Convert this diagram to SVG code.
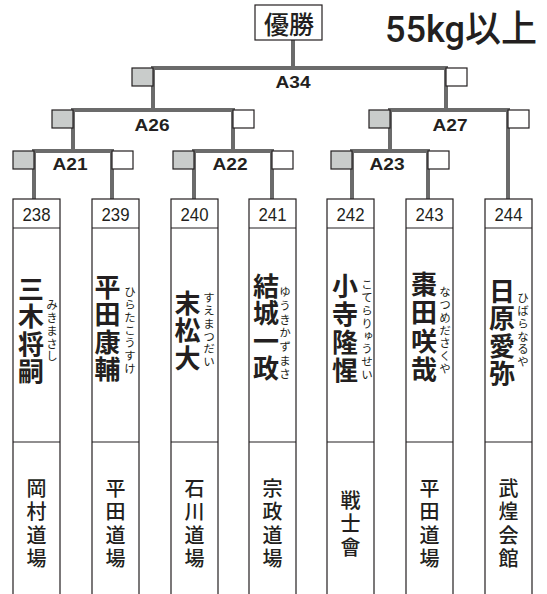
<svg xmlns="http://www.w3.org/2000/svg" width="547" height="594" viewBox="0 0 547 594">
<style>
.ln{fill:none;stroke:#6b6b6b;stroke-width:4;stroke-linejoin:miter}
.sb{stroke:#231f20;stroke-width:1.2}
.g{fill:#c9cccb}
.w{fill:#fff}
.lbl{font-family:"Liberation Sans",Arial,sans-serif;font-weight:bold;font-size:16px;fill:#231f20;text-anchor:middle}
.box{fill:#fff;stroke:#231f20;stroke-width:1.2}
.sep{stroke:#231f20;stroke-width:1.2}
.num{font-family:"Liberation Sans Narrow","Liberation Sans",Arial,sans-serif;font-size:19px;fill:#231f20;text-anchor:middle}
.nm{font-family:"Noto Sans CJK JP",sans-serif;font-weight:700;font-size:26px;letter-spacing:1.5px;fill:#231f20;writing-mode:vertical-rl}
.fu{font-family:"Noto Sans CJK JP",sans-serif;font-size:11.5px;letter-spacing:1.3px;fill:#231f20;writing-mode:vertical-rl}
.dj{font-family:"Noto Sans CJK JP",sans-serif;font-weight:500;font-size:20px;letter-spacing:3.5px;fill:#231f20;writing-mode:vertical-rl}
</style>
<rect width="547" height="594" fill="#fff"/>
<g id="connectors">
<path class="ln" d="M293,40 V68"/>
<path class="ln" d="M153,110 V68 H446 V110"/>
<path class="ln" d="M73,151 V110 H233 V151"/>
<path class="ln" d="M390,151 V110 H508 V199"/>
<path class="ln" d="M34,199 V151 H112 V199"/>
<path class="ln" d="M194,199 V151 H272 V199"/>
<path class="ln" d="M352,199 V151 H428 V199"/>
</g>
<g id="title">
<text x="385" y="42" font-family="Roboto,'Noto Sans CJK JP',sans-serif" font-weight="500" font-size="37" fill="#231f20" textLength="152" lengthAdjust="spacingAndGlyphs">55kg以上</text>
</g>
<g id="winner">
<rect class="box" x="255" y="5" width="67" height="35"/>
<text x="289" y="34" font-family="'Noto Sans CJK JP',sans-serif" font-weight="500" font-size="25" fill="#231f20" text-anchor="middle">優勝</text>
</g>
<g id="A34">
<rect class="sb g" x="132" y="68" width="21" height="18"/>
<rect class="sb w" x="446" y="68" width="21" height="18"/>
<text class="lbl" x="293" y="88" textLength="35" lengthAdjust="spacingAndGlyphs">A34</text>
</g>
<g id="A26">
<rect class="sb g" x="52" y="110" width="21" height="18"/>
<rect class="sb w" x="233" y="110" width="21" height="18"/>
<text class="lbl" x="152" y="131" textLength="35" lengthAdjust="spacingAndGlyphs">A26</text>
</g>
<g id="A27">
<rect class="sb g" x="369" y="110" width="21" height="18"/>
<rect class="sb w" x="508" y="110" width="21" height="18"/>
<text class="lbl" x="450" y="131" textLength="35" lengthAdjust="spacingAndGlyphs">A27</text>
</g>
<g id="A21">
<rect class="sb g" x="13" y="151" width="21" height="18"/>
<rect class="sb w" x="112" y="151" width="21" height="18"/>
<text class="lbl" x="70" y="170" textLength="35" lengthAdjust="spacingAndGlyphs">A21</text>
</g>
<g id="A22">
<rect class="sb g" x="173" y="151" width="21" height="18"/>
<rect class="sb w" x="272" y="151" width="21" height="18"/>
<text class="lbl" x="230" y="170" textLength="35" lengthAdjust="spacingAndGlyphs">A22</text>
</g>
<g id="A23">
<rect class="sb g" x="331" y="151" width="21" height="18"/>
<rect class="sb w" x="428" y="151" width="21" height="18"/>
<text class="lbl" x="387" y="170" textLength="35" lengthAdjust="spacingAndGlyphs">A23</text>
</g>
<g id="p238">
<rect class="box" x="13" y="199" width="47" height="400"/>
<line class="sep" x1="13" y1="228" x2="60" y2="228"/>
<line class="sep" x1="13" y1="442" x2="60" y2="442"/>
<text class="num" x="36.5" y="221" textLength="28" lengthAdjust="spacingAndGlyphs">238</text>
<text class="nm" x="31" y="276">三木将嗣</text>
<text class="fu" x="52" y="299">みきまさし</text>
<text class="dj" x="36.5" y="478">岡村道場</text>
</g>
<g id="p239">
<rect class="box" x="92" y="199" width="47" height="400"/>
<line class="sep" x1="92" y1="228" x2="139" y2="228"/>
<line class="sep" x1="92" y1="442" x2="139" y2="442"/>
<text class="num" x="115.5" y="221" textLength="28" lengthAdjust="spacingAndGlyphs">239</text>
<text class="nm" x="107.5" y="274">平田康輔</text>
<text class="fu" x="130" y="286">ひらたこうすけ</text>
<text class="dj" x="115.5" y="478">平田道場</text>
</g>
<g id="p240">
<rect class="box" x="171" y="199" width="47" height="400"/>
<line class="sep" x1="171" y1="228" x2="218" y2="228"/>
<line class="sep" x1="171" y1="442" x2="218" y2="442"/>
<text class="num" x="194.5" y="221" textLength="28" lengthAdjust="spacingAndGlyphs">240</text>
<text class="nm" x="187.5" y="290">末松大</text>
<text class="fu" x="209" y="292">すえまつだい</text>
<text class="dj" x="194.5" y="478">石川道場</text>
</g>
<g id="p241">
<rect class="box" x="249" y="199" width="47" height="400"/>
<line class="sep" x1="249" y1="228" x2="296" y2="228"/>
<line class="sep" x1="249" y1="442" x2="296" y2="442"/>
<text class="num" x="272.5" y="221" textLength="28" lengthAdjust="spacingAndGlyphs">241</text>
<text class="nm" x="266" y="273">結城一政</text>
<text class="fu" x="285" y="286" style="letter-spacing:2.2px">ゆうきかずまさ</text>
<text class="dj" x="272.5" y="478">宗政道場</text>
</g>
<g id="p242">
<rect class="box" x="327" y="199" width="47" height="400"/>
<line class="sep" x1="327" y1="228" x2="374" y2="228"/>
<line class="sep" x1="327" y1="442" x2="374" y2="442"/>
<text class="num" x="350.5" y="221" textLength="28" lengthAdjust="spacingAndGlyphs">242</text>
<text class="nm" x="345" y="273" style="letter-spacing:2px">小寺隆惺</text>
<text class="fu" x="367" y="279">こてらりゅうせい</text>
<text class="dj" x="350.5" y="490">戦士會</text>
</g>
<g id="p243">
<rect class="box" x="406" y="199" width="47" height="400"/>
<line class="sep" x1="406" y1="228" x2="453" y2="228"/>
<line class="sep" x1="406" y1="442" x2="453" y2="442"/>
<text class="num" x="429.5" y="221" textLength="28" lengthAdjust="spacingAndGlyphs">243</text>
<text class="nm" x="424" y="271" style="letter-spacing:2.5px">棗田咲哉</text>
<text class="fu" x="445" y="286">なつめださくや</text>
<text class="dj" x="429.5" y="478">平田道場</text>
</g>
<g id="p244">
<rect class="box" x="485" y="199" width="47" height="400"/>
<line class="sep" x1="485" y1="228" x2="532" y2="228"/>
<line class="sep" x1="485" y1="442" x2="532" y2="442"/>
<text class="num" x="508.5" y="221" textLength="28" lengthAdjust="spacingAndGlyphs">244</text>
<text class="nm" x="502" y="278">日原愛弥</text>
<text class="fu" x="523" y="292">ひばらなるや</text>
<text class="dj" x="508.5" y="478">武煌会館</text>
</g>
</svg>
